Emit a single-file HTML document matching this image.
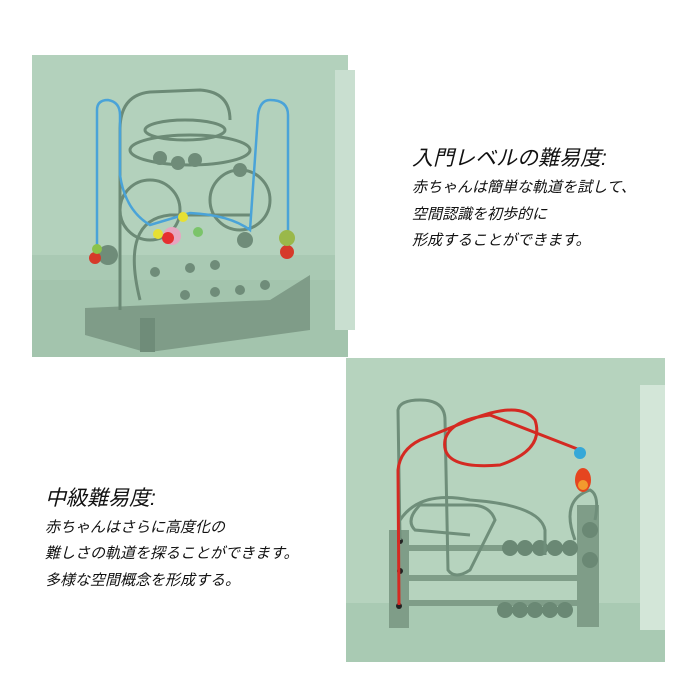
<!DOCTYPE html>
<html><head><meta charset="utf-8"><style>
html,body{margin:0;padding:0;background:#fff;width:700px;height:700px;overflow:hidden;position:relative;font-family:"Liberation Sans","Noto Sans CJK JP",sans-serif;color:#111}
.t{position:absolute;white-space:nowrap;font-style:italic}
.h{font-size:21px}
.b{font-size:15px}
svg{position:absolute;left:0;top:0}
</style></head><body>
<svg width="700" height="700" viewBox="0 0 700 700">
<rect x="32" y="55" width="316" height="302" fill="#a9c9b3"/>
<rect x="32" y="55" width="316" height="200" fill="#b3d1bc"/>
<rect x="32" y="280" width="316" height="77" fill="#a3c4ad"/>
<rect x="335" y="70" width="20" height="260" fill="#c9dfd0"/>
<polygon points="85,308 270,300 310,275 310,330 150,352 145,352 85,335" fill="#7f9c88"/>
<rect x="140" y="318" width="15" height="34" fill="#6f8c79"/>
<g stroke="#6c8a76" stroke-width="3" fill="none">
<path d="M120 310 L120 130 Q120 95 150 92 L200 90 Q230 92 230 120"/>
<circle cx="150" cy="210" r="30"/><circle cx="240" cy="200" r="30"/>
<ellipse cx="185" cy="130" rx="40" ry="10"/><ellipse cx="190" cy="150" rx="60" ry="15"/>
<path d="M140 300 Q120 220 170 215 L250 215"/>
</g>
<g fill="#6f8c79">
<circle cx="160" cy="158" r="7"/><circle cx="178" cy="163" r="7"/><circle cx="195" cy="160" r="7"/><circle cx="240" cy="170" r="7"/>
<circle cx="155" cy="272" r="5"/><circle cx="190" cy="268" r="5"/><circle cx="215" cy="265" r="5"/>
<circle cx="185" cy="295" r="5"/><circle cx="215" cy="292" r="5"/><circle cx="240" cy="290" r="5"/><circle cx="265" cy="285" r="5"/>
<circle cx="108" cy="255" r="10"/><circle cx="245" cy="240" r="8"/>
</g>
<g stroke="#4aa3d8" stroke-width="2.5" fill="none">
<path d="M97 250 L97 110 Q97 100 108 100 Q120 102 120 115 L120 175 Q125 210 150 225 L190 213 Q230 215 250 230 L258 115 Q260 100 270 100 Q288 100 288 115 L288 250"/>
</g>
<circle cx="95" cy="258" r="6" fill="#d63a2a"/><circle cx="97" cy="249" r="5" fill="#8bc34a"/>
<circle cx="287" cy="252" r="7" fill="#d63a2a"/><circle cx="287" cy="238" r="8" fill="#9ab84a"/>
<circle cx="172" cy="236" r="9" fill="#e7a6c0"/><circle cx="168" cy="238" r="6" fill="#e53030"/>
<circle cx="158" cy="234" r="5" fill="#e6e033"/><circle cx="183" cy="217" r="5" fill="#e6e033"/><circle cx="198" cy="232" r="5" fill="#7bc46a"/>
<rect x="346" y="358" width="319" height="304" fill="#a9cab3"/>
<rect x="346" y="358" width="319" height="245" fill="#b6d3be"/>
<rect x="640" y="385" width="25" height="245" fill="#d3e6d8"/>
<g fill="#7f9d88">
<rect x="389" y="530" width="20" height="98"/><rect x="577" y="505" width="22" height="122"/>
<rect x="405" y="545" width="175" height="6"/><rect x="405" y="575" width="175" height="6"/><rect x="405" y="600" width="175" height="6"/>
</g>
<g fill="#6a8874"><circle cx="510" cy="548" r="8"/><circle cx="525" cy="548" r="8"/><circle cx="540" cy="548" r="8"/><circle cx="555" cy="548" r="8"/><circle cx="570" cy="548" r="8"/>
<circle cx="505" cy="610" r="8"/><circle cx="520" cy="610" r="8"/><circle cx="535" cy="610" r="8"/><circle cx="550" cy="610" r="8"/><circle cx="565" cy="610" r="8"/>
<circle cx="590" cy="530" r="8"/><circle cx="590" cy="560" r="8"/></g>
<g fill="#222"><circle cx="400" cy="541" r="3"/><circle cx="400" cy="571" r="3"/><circle cx="399" cy="606" r="3"/></g>
<g stroke="#6f8e7a" stroke-width="3" fill="none">
<path d="M400 540 L398 410 Q400 400 420 400 Q445 400 445 420 L448 570 Q455 580 470 570 L495 520 Q490 505 470 505 L420 505 Q405 520 415 530 L470 535"/>
<path d="M575 540 Q560 500 590 490 Q600 495 595 520"/>
<path d="M400 520 Q420 490 470 500 Q540 505 545 530 L545 555"/>
</g>
<path d="M399 605 L398 470 Q400 450 420 440 L470 420 Q520 400 535 420 Q545 450 500 465 Q440 470 445 440 Q450 420 490 415 L580 450" stroke="#d42a22" stroke-width="3" fill="none"/>
<circle cx="580" cy="453" r="6" fill="#36a8d8"/><ellipse cx="583" cy="480" rx="8" ry="12" fill="#e5451f"/><circle cx="583" cy="485" r="5" fill="#f29a2e"/>
</svg>
<div class="t h" style="left:412px;top:142px">入門レベルの難易度:</div>
<div class="t b" style="left:412px;top:176px">赤ちゃんは簡単な軌道を試して、</div>
<div class="t b" style="left:412px;top:203px">空間認識を初歩的に</div>
<div class="t b" style="left:412px;top:229px">形成することができます。</div>
<div class="t h" style="left:45px;top:482px">中級難易度:</div>
<div class="t b" style="left:45px;top:516px">赤ちゃんはさらに高度化の</div>
<div class="t b" style="left:45px;top:542px">難しさの軌道を探ることができます。</div>
<div class="t b" style="left:45px;top:569px">多様な空間概念を形成する。</div>
</body></html>
